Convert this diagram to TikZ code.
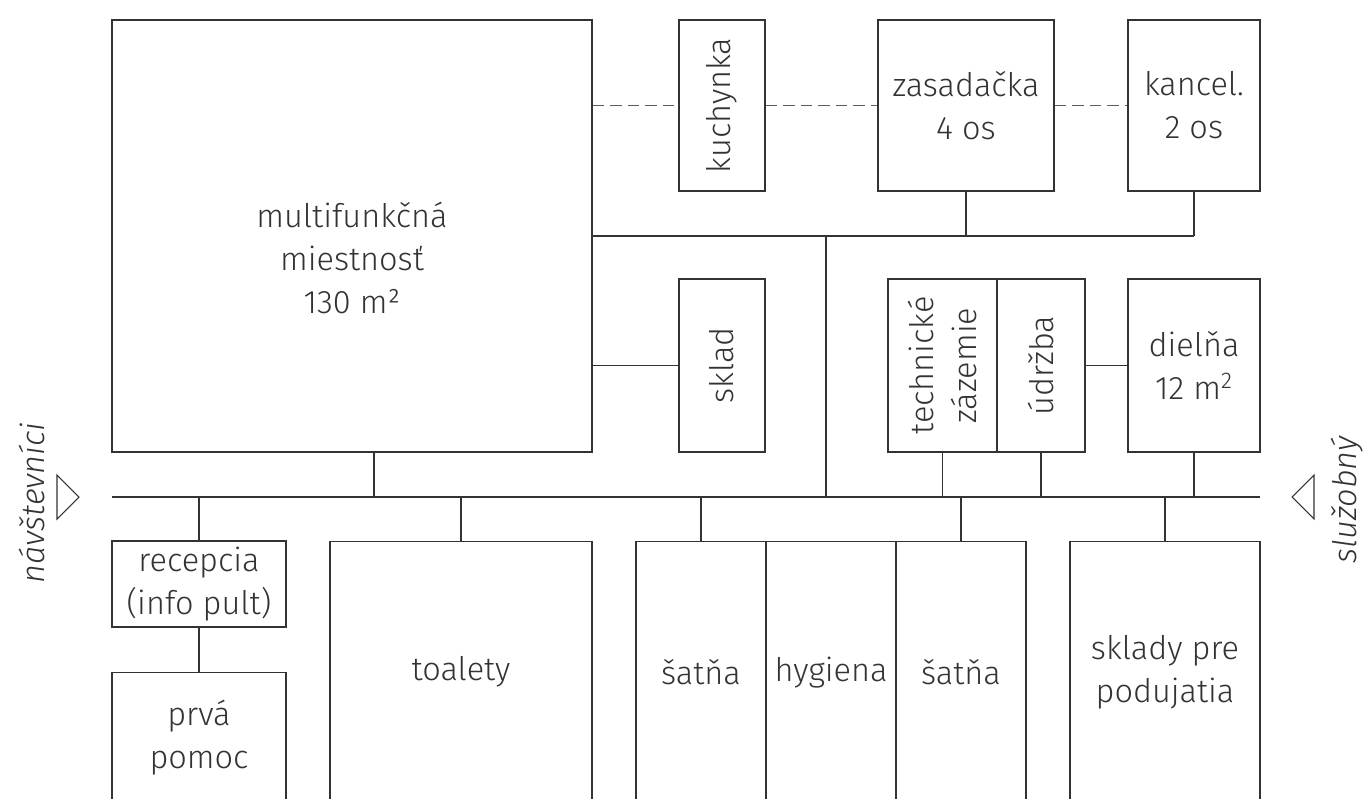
\documentclass[tikz,border=0pt]{standalone}
\usepackage{fontspec}
\setmainfont{Fira Sans}[UprightFont=* Light, ItalicFont=* Light Italic]
\definecolor{ink}{HTML}{333333}
\newcommand{\roomfont}{\fontsize{18.5}{24.5}\selectfont}
\begin{document}
\begin{tikzpicture}[x=0.02cm, y=-0.02cm, line width=0.7pt,
    room/.style={draw=ink, inner sep=0pt, align=center, text=ink, font=\roomfont},
    dims/.style 2 args={minimum width=#1*0.02cm, minimum height=#2*0.02cm},
    vtext/.style={rotate=90, align=center, text=ink, font=\roomfont},
    link/.style={draw=ink},
    dashlink/.style={draw=ink!80, dash pattern=on 6.5pt off 3.5pt},
    side/.style={rotate=90, text=ink, font=\roomfont\itshape},
    gate/.style={draw=ink, line width=0.6pt}]

    % frame of the plan
    \useasboundingbox (0,0) rectangle (1366,798);
    \clip (0,0) rectangle (1366,798);

    % upper rooms
    \node[room, dims={480}{432}, label={[yshift=-0.44cm, align=center, text=ink, font=\roomfont]center:{multifunkčná\\miestnosť\\130 m²}}] (multi) at (352,236) {};
    \node[room, dims={86}{171}, label={[vtext]center:kuchynka}] (kuch) at (722,105.5) {};
    \node[room, dims={176}{171}] (zas) at (966,105.5) {zasadačka\\4 os};
    \node[room, dims={132}{171}] (kanc) at (1194,105.5) {kancel.\\2 os};
    \node[room, dims={86}{173}, label={[vtext]center:sklad}] (sklad) at (722,365.5) {};
    \node[room, dims={109}{173}, label={[vtext]center:{technické\\zázemie}}] (tech) at (942.5,365.5) {};
    \node[room, dims={88}{173}, label={[vtext]center:údržba}] (udr) at (1041,365.5) {};
    \node[room, dims={132}{173}] (diel) at (1194,365.5) {dielňa\\12 m\textsuperscript{2}};

    % lower rooms
    \node[room, dims={174}{86}] (rec) at (199,584) {recepcia\\(info pult)};
    \node[room, dims={174}{130}, anchor=north] (prva) at (199,672) {prvá\\pomoc};
    \node[room, dims={262}{261}, anchor=north] (toal) at (461,541) {toalety};
    \node[room, dims={130}{261}, anchor=north] (sat1) at (701,541) {šatňa};
    \node[room, dims={130}{261}, anchor=north] (hyg) at (831,541) {hygiena};
    \node[room, dims={130}{261}, anchor=north] (sat2) at (961,541) {šatňa};
    \node[room, dims={190}{261}, anchor=north] (skl) at (1165,541) {sklady pre\\podujatia};

    % corridors
    \coordinate (cl) at (112,497);
    \coordinate (cr) at (1260,497);
    \coordinate (hall) at (826,236);
    \coordinate (mdoor) at (374,497);
    \draw[link] (cl) -- (cr);
    \draw[link] (multi.east |- hall) -- (kanc.south |- hall);
    \draw[link] (hall) -- (hall |- cl);
    \draw[link] (zas.south) -- (zas.south |- hall);
    \draw[link] (kanc.south) -- (kanc.south |- hall);

    % doors
    \draw[link] (mdoor) -- (mdoor |- multi.south);
    \draw[link] (sklad.west) -- (sklad.west -| multi.east);
    \draw[link] (udr.east) -- (diel.west);
    \draw[link] (tech.south) -- (tech.south |- cl);
    \draw[link] (udr.south) -- (udr.south |- cl);
    \draw[link] (diel.south) -- (diel.south |- cl);
    \draw[link] (rec.north) -- (rec.north |- cl);
    \draw[link] (rec.south) -- (prva.north);
    \draw[link] (toal.north) -- (toal.north |- cl);
    \draw[link] (sat1.north) -- (sat1.north |- cl);
    \draw[link] (sat2.north) -- (sat2.north |- cl);
    \draw[link] (skl.north) -- (skl.north |- cl);

    % visual links
    \draw[dashlink] (kuch.west -| multi.east) -- (kuch.west);
    \draw[dashlink] (kuch.east) -- (zas.west);
    \draw[dashlink] (zas.east) -- (kanc.west);

    % entrances
    \draw[gate] (57,475) -- (79,497) -- (57,519) -- cycle;
    \draw[gate] (1314,475) -- (1292,497) -- (1314,519) -- cycle;
    \node[side] (vis) at (32,503) {návštevníci};
    \node[side] (serv) at (1347,500) {služobný};

\end{tikzpicture}
\end{document}
